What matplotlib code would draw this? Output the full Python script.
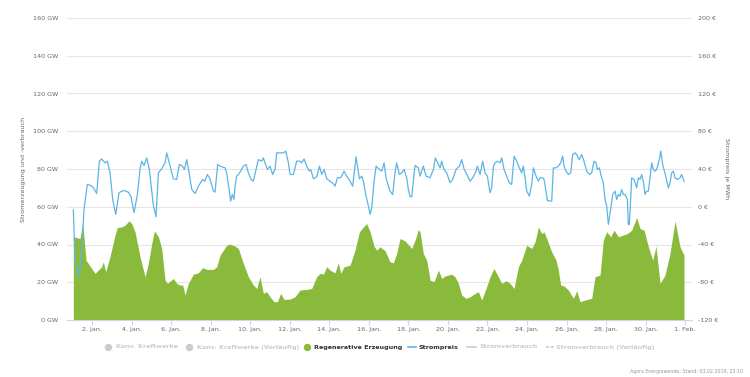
import matplotlib.pyplot as plt
from matplotlib.lines import Line2D

# hours since 1 Jan 2019 00:00
green_h = [1.0, 9.1, 12.4, 16.4, 23.3, 27.3, 35.4, 37.4, 40.3, 45.5, 51.6, 54.5, 59.7, 63.8,
           68.6, 71.9, 75.9, 82.0, 88.1, 92.1, 96.2, 99.4, 104.3, 108.3, 112.4, 115.2, 122.5,
           126.5, 130.6, 133.8, 136.6, 140.7, 146.8, 152.8, 158.1, 163.0, 171.1, 175.1, 179.2,
           187.3, 191.3, 197.4, 201.4, 207.5, 213.6, 219.6, 223.7, 227.7, 231.8, 235.8, 239.9,
           244.7, 248.8, 252.8, 256.9, 264.2, 270.2, 276.3, 284.4, 290.5, 296.5, 300.6, 304.7,
           308.7, 312.8, 318.8, 322.9, 325.7, 329.8, 337.1, 343.1, 348.4, 353.3, 357.3, 361.4,
           366.2, 369.4, 373.5, 379.6, 385.6, 389.7, 393.7, 397.8, 403.9, 412.0, 416.0, 420.1,
           422.1, 426.1, 430.2, 434.3, 439.1, 444.4, 448.4, 452.4, 456.5, 460.5, 464.6, 468.6,
           472.7, 477.9, 482.8, 488.9, 492.9, 497.0, 502.2, 507.1, 511.9, 517.2, 521.3, 526.5,
           531.4, 536.3, 541.5, 545.6, 551.6, 557.7, 561.8, 565.8, 569.9, 572.7, 575.9, 582.0,
           587.3, 590.1, 592.9, 597.0, 602.2, 608.3, 612.4, 616.4, 622.5, 630.6, 634.6, 640.7,
           644.7, 648.8, 653.7, 657.7, 663.0, 668.2, 673.9, 679.2, 685.2, 689.3, 694.2, 699.4,
           704.7, 708.7, 713.6, 719.6, 725.7, 731.8, 737.8, 742.7]
green_gw = [44.1, 43.2, 51.5, 31.7, 27.3, 24.7, 28.2, 30.8, 25.6, 33.5, 44.9, 49.0, 49.3, 50.2,
            52.5, 51.1, 46.7, 33.5, 22.9, 30.0, 40.5, 47.2, 44.1, 37.9, 21.1, 19.4, 22.0,
            19.4, 18.5, 18.5, 13.2, 19.4, 24.3, 25.0, 27.7, 26.8, 26.8, 28.2, 34.4,
            39.6, 40.2, 39.1, 37.9, 30.0, 22.9, 18.5, 16.7, 22.9, 14.1, 15.0, 12.3,
            9.7, 9.7, 14.1, 10.9, 11.1, 12.3, 15.9, 16.2, 16.7, 22.9, 24.7, 24.3,
            28.2, 26.4, 25.0, 30.3, 24.7, 28.2, 29.1, 37.0, 46.7, 49.3, 51.1, 46.7,
            39.1, 37.0, 38.8, 36.7, 30.8, 30.3, 35.2, 43.2, 41.9, 37.9, 42.3, 47.9,
            46.7, 35.2, 31.7, 21.1, 20.3, 26.4, 22.0, 23.3, 23.8, 24.3, 22.9, 19.4,
            13.2, 11.5, 12.3, 14.1, 15.0, 10.6, 16.7, 22.9, 27.3, 22.9, 19.4, 20.8,
            19.4, 16.7, 28.2, 31.7, 39.6, 37.9, 41.4, 49.3, 45.8, 46.7, 43.2, 36.1,
            31.7, 26.4, 18.5, 18.0, 15.9, 11.5, 15.5, 9.7, 10.6, 11.5, 22.9, 23.8,
            42.3, 46.7, 44.1, 47.6, 44.1, 44.9, 45.8, 47.6, 54.3, 48.5, 47.6, 38.8,
            31.7, 39.1, 19.4, 23.8, 35.2, 52.5, 38.8, 34.4]

price_h = [1.0, 3.0, 7.1, 9.9, 14.0, 18.0, 22.1, 25.3, 29.4, 32.6, 35.4, 39.5, 42.3, 45.6, 48.8,
           52.5, 56.5, 61.8, 67.8, 71.1, 74.7, 78.8, 82.0, 84.0, 86.9, 90.1, 93.3, 98.2, 101.4,
           104.3, 108.3, 112.4, 114.4, 118.5, 122.5, 126.5, 129.8, 133.4, 135.9, 138.7, 141.9,
           144.8, 148.8, 154.1, 158.1, 160.9, 163.8, 167.0, 171.1, 173.1, 176.3, 179.2, 185.3,
           187.2, 190.5, 192.1, 194.1, 196.2, 197.4, 199.4, 201.4, 204.3, 207.5, 210.8, 213.6,
           216.8, 219.6, 222.9, 225.7, 229.8, 231.8, 233.8, 236.7, 239.9, 243.1, 246.0, 248.0,
           252.1, 256.1, 259.0, 262.2, 264.2, 268.3, 272.3, 276.4, 278.4, 281.2, 284.5, 287.7,
           289.3, 292.6, 296.6, 299.9, 302.7, 305.5, 308.8, 312.8, 316.9, 318.9, 321.7, 325.8,
           329.8, 333.1, 337.1, 340.3, 344.4, 348.4, 351.3, 353.3, 356.5, 359.4, 361.4, 363.4,
           366.3, 368.7, 372.7, 375.6, 378.4, 380.8, 383.6, 385.6, 388.9, 391.7, 393.7, 397.0,
           399.8, 402.7, 405.9, 407.9, 409.9, 412.0, 414.0, 416.0, 420.1, 422.1, 426.1, 429.4,
           434.2, 438.3, 440.7, 444.4, 446.4, 448.4, 451.2, 454.5, 458.5, 461.8, 465.8, 469.9,
           472.7, 475.5, 478.0, 482.8, 486.1, 490.1, 491.7, 495.0, 498.2, 501.0, 503.9, 507.1,
           509.1, 511.2, 513.2, 516.0, 519.3, 521.3, 524.1, 527.4, 530.6, 533.4, 536.3, 539.5,
           542.7, 545.6, 547.6, 549.6, 551.7, 554.9, 557.7, 559.8, 563.0, 565.8, 567.9, 571.0,
           572.7, 575.1, 576.7, 580.0, 582.0, 584.0, 587.2, 590.1, 592.9, 595.3, 597.0, 599.4,
           602.2, 605.1, 607.5, 610.3, 612.3, 615.6, 618.4, 621.2, 624.5, 627.7, 630.6, 633.4,
           635.8, 637.4, 639.9, 642.7, 644.7, 646.8, 648.8, 650.8, 653.6, 656.1, 658.9, 660.9,
           663.0, 665.0, 667.0, 669.0, 671.1, 673.9, 675.1, 676.3, 677.9, 679.1, 682.0, 685.2,
           687.2, 689.3, 691.3, 693.3, 695.3, 697.4, 699.4, 701.4, 703.4, 705.5, 707.5, 709.5,
           712.8, 714.4, 716.8, 718.4, 720.9, 723.7, 725.7, 727.7, 729.8, 731.8, 734.6, 737.8,
           739.8, 741.9, 742.7]
price_eur = [-3.5, -55.7, -73.3, -62.7, -2.8, 23.6, 22.6, 20.1, 14.1, 48.3, 50.7, 46.5, 48.3, 35.9, 7.8,
             -8.1, 14.8, 17.3, 15.5, 10.6, -6.3, 13.0, 40.2, 48.3, 43.7, 51.8, 39.5, 1.4, -10.6,
             35.9, 40.2, 46.5, 57.1, 43.0, 29.6, 28.9, 44.8, 43.0, 39.5, 50.0, 34.2,
             18.3, 14.1, 23.6, 28.9, 27.1, 34.2, 29.6, 16.6, 15.5, 44.8, 43.0, 41.2,
             35.6, 16.6, 6.0, 13.0, 7.8, 21.8, 32.4, 34.2, 37.7, 43.0, 44.8, 35.9,
             28.9, 27.1, 39.5, 50.0, 48.3, 51.8, 46.5, 39.5, 43.0, 34.2, 39.5, 57.1,
             57.1, 57.1, 58.9, 46.5, 34.2, 34.2, 48.3, 48.3, 46.5, 50.7, 43.0, 37.7,
             39.5, 29.6, 31.7, 43.0, 34.2, 39.5, 29.6, 27.1, 24.3, 21.8, 30.7, 30.7,
             37.7, 32.4, 27.1, 21.8, 52.9, 29.6, 32.4, 27.1, 11.3, 0.7, -8.1, -1.1,
             27.1, 43.0, 39.5, 37.7, 46.5, 30.7, 21.8, 16.6, 13.0, 35.9, 46.5, 34.2,
             35.9, 39.5, 30.7, 18.3, 10.6, 10.6, 27.1, 43.7, 41.2, 32.4, 43.0, 32.4,
             30.7, 39.5, 51.8, 44.8, 41.2, 48.3, 39.5, 35.9, 25.4, 28.9, 39.5, 43.0,
             50.0, 40.2, 35.9, 27.1, 30.7, 37.7, 43.0, 34.2, 48.3, 35.9, 32.4, 14.8,
             20.1, 43.0, 46.5, 48.3, 46.5, 51.8, 39.5, 32.4, 25.4, 23.6, 53.6, 48.3,
             41.2, 35.9, 43.0, 30.7, 16.6, 11.3, 23.6, 41.2, 32.4, 27.1, 30.7, 30.7,
             28.9, 16.6, 6.7, 6.0, 6.0, 41.2, 41.2, 43.0, 46.5, 53.6, 43.0, 37.7,
             34.2, 35.9, 55.3, 57.1, 55.3, 50.0, 55.3, 48.3, 37.7, 34.2, 35.9, 48.3,
             46.5, 39.5, 41.2, 30.7, 25.4, 7.8, 0.7, -18.7, -2.8, 13.0, 16.6, 7.8,
             13.0, 11.3, 18.3, 13.0, 13.0, 7.8, -18.7, -18.7, 7.8, 30.7, 28.9, 20.1,
             30.7, 28.9, 34.2, 27.1, 13.0, 16.6, 16.6, 30.7, 46.5, 39.5, 37.7, 39.5,
             50.0, 58.9, 44.8, 39.5, 30.7, 20.1, 25.4, 35.9, 37.7, 30.7, 28.9, 30.7,
             34.2, 28.9, 27.1]

tick_hours = [24, 72, 120, 168, 216, 264, 312, 360, 408, 456, 504, 552, 600, 648, 696, 744]
tick_labels = ['2. Jan.', '4. Jan.', '6. Jan.', '8. Jan.', '10. Jan.', '12. Jan.', '14. Jan.',
               '16. Jan.', '18. Jan.', '20. Jan.', '22. Jan.', '24. Jan.', '26. Jan.',
               '28. Jan.', '30. Jan.', '1. Feb.']
gw_ticks = [0, 20, 40, 60, 80, 100, 120, 140, 160]
eur_ticks = [-120, -80, -40, 0, 40, 80, 120, 160, 200]

GREEN = '#8aba3c'
BLUE = '#5cb5e5'
GREY = '#666666'
plt.rcParams['font.family'] = ['DejaVu Sans']

fig, ax = plt.subplots(figsize=(7.5, 3.77), dpi=100)
fig.subplots_adjust(left=67/750, right=692/750, bottom=57/377, top=359/377)

ax.fill_between(green_h, 0, green_gw, color=GREEN, lw=0, zorder=2)
ax.set_xlim(-6.7, 752.4)
ax.set_ylim(0, 160)
ax.set_yticks(gw_ticks)
ax.set_yticklabels([f'{v} GW' for v in gw_ticks])
ax.grid(axis='y', color='#e6e6e6', lw=0.8, zorder=0)
ax.set_axisbelow(True)
ax.set_xticks(tick_hours)
ax.set_xticklabels(tick_labels)
ax.tick_params(axis='x', length=3.6, color='#ccd6eb', labelsize=4.6, labelcolor=GREY, pad=1.5)
ax.tick_params(axis='y', length=0, labelsize=4.6, labelcolor=GREY, pad=6.5)
for s in ['top', 'right', 'left']:
    ax.spines[s].set_visible(False)
ax.spines['bottom'].set_color('#ccd6eb')
ax.set_ylabel('Stromerzeugung und -verbrauch', fontsize=4.6, color=GREY)
ax.yaxis.set_label_coords(-41/625, 0.5)

ax2 = ax.twinx()
ax2.plot(price_h, price_eur, color=BLUE, lw=0.9, zorder=3)
ax2.set_ylim(-120, 200)
ax2.set_yticks(eur_ticks)
ax2.set_yticklabels([f'{v} €' for v in eur_ticks])
ax2.tick_params(axis='y', length=0, labelsize=4.6, labelcolor=GREY, pad=4.3)
for s in ax2.spines.values():
    s.set_visible(False)
ax2.set_ylabel('Strompreis je MWh', fontsize=4.6, color=GREY, rotation=270, va='center')
ax2.yaxis.set_label_coords(1 + 35/625, 0.5)

# legend, laid out by hand like the Highcharts one
def fx(px):
    return px / 750
ly = 1 - 347 / 377
items = [('dot', '#cccccc', 108.3, 116.5, 'Konv. Kraftwerke', '#cccccc'),
         ('dot', '#cccccc', 189.0, 197.0, 'Konv. Kraftwerke (Vorläufig)', '#cccccc'),
         ('dot', GREEN, 306.7, 314.0, 'Regenerative Erzeugung', '#333333'),
         ('line', BLUE, 412.0, 418.7, 'Strompreis', '#333333'),
         ('line', '#cccccc', 471.5, 479.0, 'Stromverbrauch', '#cccccc'),
         ('dash', '#cccccc', 549.5, 556.5, 'Stromverbrauch (Vorläufig)', '#cccccc')]
for kind, c, mx, tx, label, tc in items:
    if kind == 'dot':
        fig.add_artist(Line2D([fx(mx)], [ly], marker='o', ms=4.3, color=c, transform=fig.transFigure))
    else:
        ls = '--' if kind == 'dash' else '-'
        fig.add_artist(Line2D([fx(mx - 4), fx(mx + 4)], [ly, ly], color=c, lw=1.2, ls=ls,
                              dashes=(2, 1) if kind == 'dash' else (None, None),
                              transform=fig.transFigure))
    fig.text(fx(tx), ly, label, fontsize=4.6, fontweight='bold', color=tc, va='center', ha='left')

fig.text(fx(743), 1 - 371/377, 'Agora Energiewende; Stand: 03.02.2019, 23:10',
         fontsize=3.4, color='#999999', ha='right', va='center')

fig.savefig('out.png', dpi=100)
